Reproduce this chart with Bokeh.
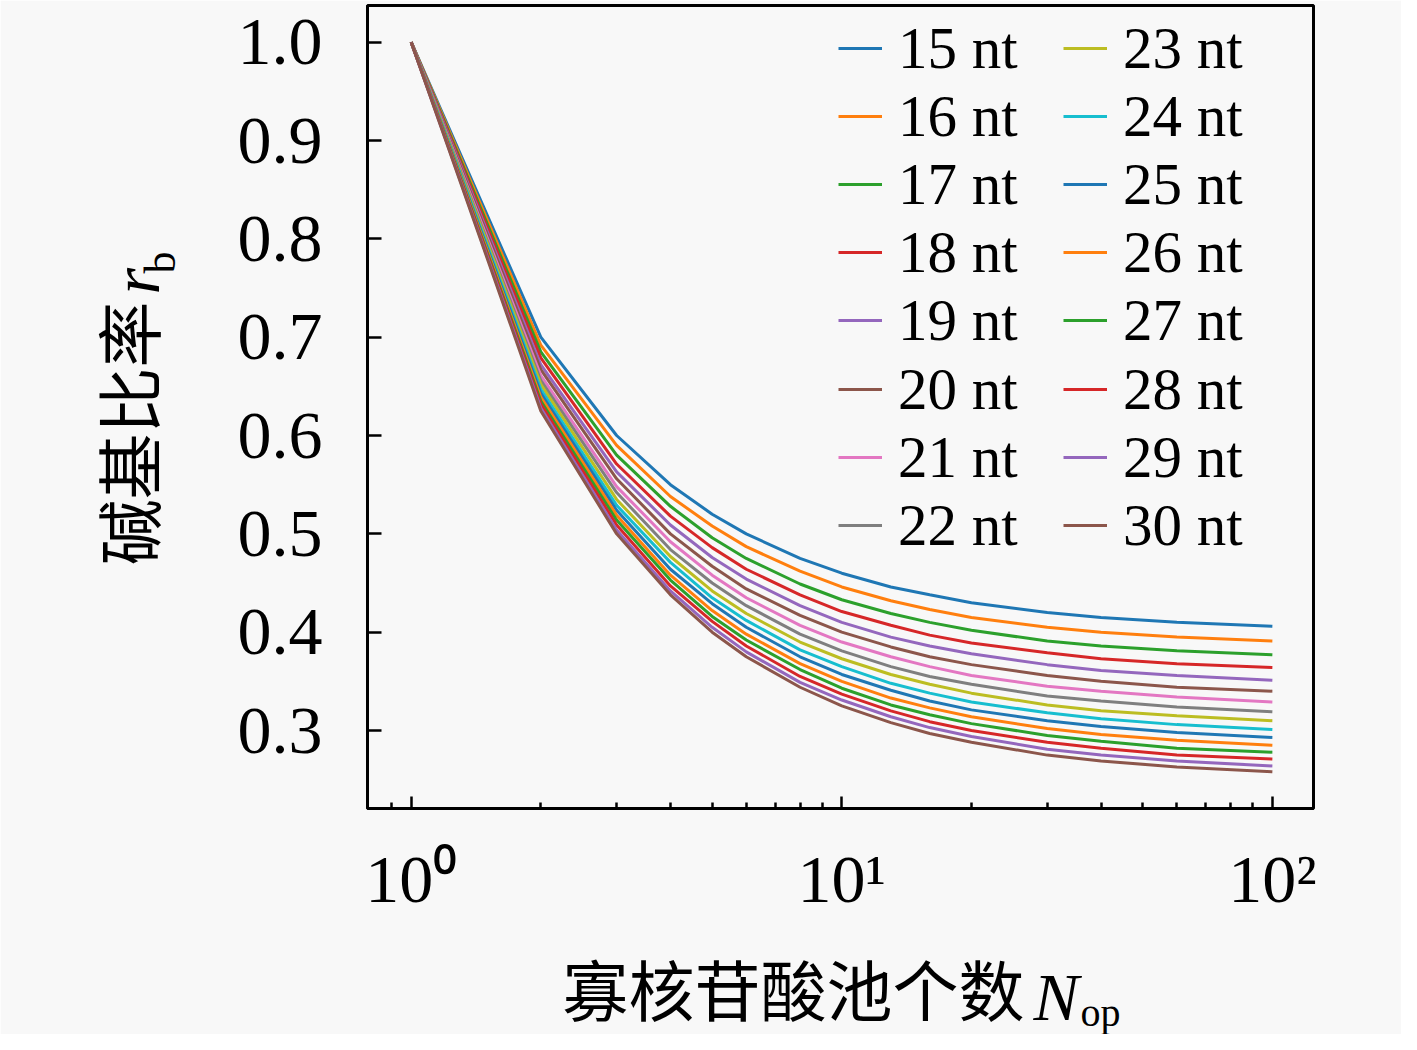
import math
from bokeh.plotting import figure
from bokeh.models import FixedTicker, Legend, LegendItem, Label, Range1d, PrintfTickFormatter
from bokeh.embed import file_html
from bokeh.resources import INLINE

# ---------------- data ----------------
n_op = [1, 2, 3, 4, 5, 6, 8, 10, 13, 16, 20, 30, 40, 60, 100]

rb_15nt = [1.000, 0.700, 0.600, 0.550, 0.520, 0.500, 0.475, 0.460, 0.446, 0.438, 0.430, 0.420, 0.415, 0.410, 0.406]
rb_16nt = [1.000, 0.692, 0.590, 0.538, 0.508, 0.487, 0.462, 0.446, 0.432, 0.423, 0.415, 0.405, 0.400, 0.395, 0.391]
rb_17nt = [1.000, 0.685, 0.580, 0.528, 0.496, 0.475, 0.449, 0.433, 0.419, 0.410, 0.402, 0.391, 0.386, 0.381, 0.377]
rb_18nt = [1.000, 0.679, 0.571, 0.518, 0.486, 0.464, 0.438, 0.421, 0.407, 0.397, 0.389, 0.379, 0.373, 0.368, 0.364]
rb_19nt = [1.000, 0.672, 0.563, 0.509, 0.476, 0.454, 0.427, 0.410, 0.395, 0.386, 0.378, 0.367, 0.361, 0.356, 0.351]
rb_20nt = [1.000, 0.667, 0.556, 0.500, 0.467, 0.444, 0.417, 0.400, 0.385, 0.375, 0.367, 0.356, 0.350, 0.344, 0.340]
rb_21nt = [1.000, 0.661, 0.548, 0.492, 0.458, 0.435, 0.407, 0.390, 0.375, 0.365, 0.356, 0.345, 0.340, 0.334, 0.329]
rb_22nt = [1.000, 0.656, 0.542, 0.484, 0.450, 0.427, 0.398, 0.381, 0.365, 0.355, 0.347, 0.335, 0.330, 0.324, 0.319]
rb_23nt = [1.000, 0.652, 0.535, 0.477, 0.442, 0.419, 0.390, 0.373, 0.357, 0.347, 0.338, 0.326, 0.320, 0.315, 0.310]
rb_24nt = [1.000, 0.647, 0.529, 0.471, 0.435, 0.412, 0.382, 0.365, 0.348, 0.338, 0.329, 0.318, 0.312, 0.306, 0.301]
rb_25nt = [1.000, 0.643, 0.524, 0.464, 0.429, 0.405, 0.375, 0.357, 0.341, 0.330, 0.321, 0.310, 0.304, 0.298, 0.293]
rb_26nt = [1.000, 0.639, 0.519, 0.458, 0.422, 0.398, 0.368, 0.350, 0.333, 0.323, 0.314, 0.302, 0.296, 0.290, 0.285]
rb_27nt = [1.000, 0.635, 0.514, 0.453, 0.416, 0.392, 0.362, 0.343, 0.326, 0.316, 0.307, 0.295, 0.289, 0.282, 0.278]
rb_28nt = [1.000, 0.632, 0.509, 0.447, 0.411, 0.386, 0.355, 0.337, 0.320, 0.309, 0.300, 0.288, 0.282, 0.275, 0.271]
rb_29nt = [1.000, 0.628, 0.504, 0.442, 0.405, 0.380, 0.349, 0.331, 0.314, 0.303, 0.294, 0.281, 0.275, 0.269, 0.264]
rb_30nt = [1.000, 0.625, 0.500, 0.438, 0.400, 0.375, 0.344, 0.325, 0.308, 0.297, 0.288, 0.275, 0.269, 0.263, 0.258]

series_labels = ["15 nt", "16 nt", "17 nt", "18 nt", "19 nt", "20 nt", "21 nt", "22 nt",
                 "23 nt", "24 nt", "25 nt", "26 nt", "27 nt", "28 nt", "29 nt", "30 nt"]
series_values = [rb_15nt, rb_16nt, rb_17nt, rb_18nt, rb_19nt, rb_20nt, rb_21nt, rb_22nt,
                 rb_23nt, rb_24nt, rb_25nt, rb_26nt, rb_27nt, rb_28nt, rb_29nt, rb_30nt]

y_ticks = [0.3, 0.4, 0.5, 0.6, 0.7, 0.8, 0.9, 1.0]
x_ticks = [1, 10, 100]
x_tick_labels = {1: "10\u2070", 10: "10\u00b9", 100: "10\u00b2"}
x_minor = [0.9, 2, 3, 4, 5, 6, 7, 8, 9, 20, 30, 40, 50, 60, 70, 80, 90]

palette = ["#1f77b4", "#ff7f0e", "#2ca02c", "#d62728", "#9467bd",
           "#8c564b", "#e377c2", "#7f7f7f", "#bcbd22", "#17becf"]

BG = "#f8f8f8"
SERIF = "Liberation Serif"
CJK = "Noto Sans CJK SC"

X0, X1 = 0.7916, 124.6
Y0, Y1 = 0.2207, 1.0373
FRAME_L, FRAME_R, FRAME_T, FRAME_B = 367, 1313, 5, 808
W, H = 1401, 1034

# ---------------- figure ----------------
p = figure(width=W, height=H, x_axis_type="log",
           x_range=Range1d(X0, X1), y_range=Range1d(Y0, Y1),
           output_backend="svg", toolbar_location=None,
           min_border_left=FRAME_L, min_border_right=W - FRAME_R,
           min_border_top=FRAME_T, min_border_bottom=H - FRAME_B)
p.background_fill_color = BG
p.border_fill_color = BG
p.outline_line_color = "black"
p.outline_line_width = 3
p.xgrid.visible = False
p.ygrid.visible = False

renderers = []
for i, (lab, vals) in enumerate(zip(series_labels, series_values)):
    r = p.line(n_op, vals, line_color=palette[i % 10], line_width=3)
    renderers.append(r)

# axes
for ax in (p.xaxis[0], p.yaxis[0]):
    ax.axis_line_width = 3
    ax.axis_line_color = "black"
    ax.major_tick_line_width = 2.5
    ax.minor_tick_line_width = 2.5
    ax.major_tick_out = 0
    ax.minor_tick_out = 0
    ax.major_label_text_font = SERIF
    ax.major_label_text_font_size = "68px"
    ax.major_label_text_color = "black"

p.xaxis[0].ticker = FixedTicker(ticks=x_ticks, minor_ticks=x_minor)
p.xaxis[0].major_label_overrides = x_tick_labels
p.xaxis[0].major_tick_in = 12
p.xaxis[0].minor_tick_in = 6
p.xaxis[0].major_label_standoff = 32

p.yaxis[0].ticker = FixedTicker(ticks=y_ticks, minor_ticks=[])
p.yaxis[0].formatter = PrintfTickFormatter(format="%.1f")
p.yaxis[0].major_tick_in = 14
p.yaxis[0].minor_tick_in = 0
p.yaxis[0].major_label_standoff = 45

# legend: two columns x 8 rows, one horizontal legend per row so the row pitch is exact
LEG_X = 838 - FRAME_L          # left edge of legend glyphs, from frame left
ROW0_CENTER, ROW_PITCH, ITEM_H = 48, 68.1, 90
n_rows = 8
for row in range(n_rows):
    row_items = [LegendItem(label=series_labels[row], renderers=[renderers[row]]),
                 LegendItem(label=series_labels[row + n_rows], renderers=[renderers[row + n_rows]])]
    center = ROW0_CENTER + ROW_PITCH * row
    leg = Legend(items=row_items, orientation="horizontal",
                 location=(LEG_X, round(FRAME_B - center - ITEM_H / 2)),
                 padding=0, margin=0, spacing=0,
                 label_height=ITEM_H, glyph_height=ITEM_H, glyph_width=44, label_standoff=16,
                 label_width=165,
                 label_text_font=SERIF, label_text_font_size="59px",
                 label_text_color="black",
                 background_fill_alpha=0, border_line_alpha=0)
    p.add_layout(leg)


# ---------------- axis titles ----------------
# Placed in side panels (so not clipped); anchored in the plot's own coordinates.
def px_to_x(px):
    lx0, lx1 = math.log10(X0), math.log10(X1)
    return 10 ** (lx0 + (px - FRAME_L) / (FRAME_R - FRAME_L) * (lx1 - lx0))


def py_to_y(py):
    return Y1 - (py - FRAME_T) / (FRAME_B - FRAME_T) * (Y1 - Y0)


def title_text(side, text, px, py, font, size, style="normal", angle=0.0):
    p.add_layout(Label(x=px_to_x(px), y=py_to_y(py), x_units="data", y_units="data", angle=angle,
                       text=text, text_font=font, text_font_size=size, text_font_style=style,
                       text_align="left", text_baseline="middle", text_color="black"),
                 side)


title_text("below", "寡核苷酸池个数", 562, 986, CJK, "66px")
title_text("right", "N", 1033, 996, SERIF, "68px", "italic")
title_text("right", "op", 1080, 1012, SERIF, "40px")

title_text("left", "碱基比率", 125, 565, CJK, "66px", angle=math.pi / 2)
title_text("left", "r", 135, 294, SERIF, "68px", "italic", angle=math.pi / 2)
title_text("left", "b", 160, 273, SERIF, "44px", angle=math.pi / 2)

open("out.html", "w").write(file_html(p, INLINE))
